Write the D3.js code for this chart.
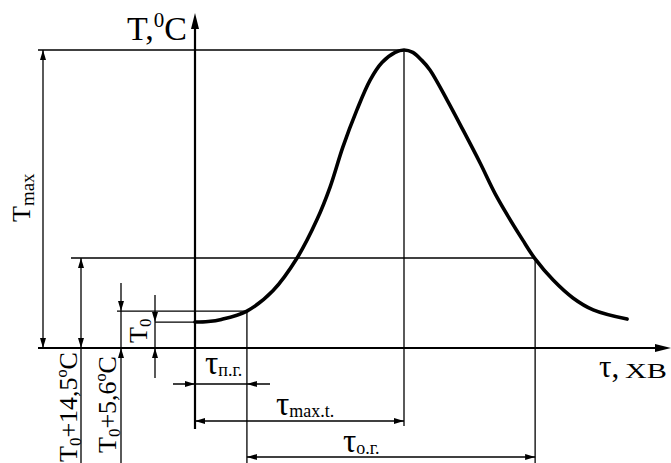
<!DOCTYPE html>
<html>
<head>
<meta charset="utf-8">
<script src="https://cdn.jsdelivr.net/npm/d3@7"></script>
<style>
  html, body { margin: 0; padding: 0; background: #fff; }
  svg { display: block; }
</style>
</head>
<body>
<svg id="chart" width="671" height="463"></svg>
<script>
// ---- Data (schematic units: time 0..100, temperature 0..100 where Tmax = 100) ----
const curveTime = [0, 3, 6, 11.8, 17.7, 23.2, 27.7, 30.7, 33.6, 36.8, 39.8, 42.5, 45.5, 47.5, 49.5, 51.5, 53.4, 57.3, 60.9, 64.8, 68.6, 74.5, 77.3, 81.4, 85.9, 90.5, 98.2];
const curveTemp = [8.7, 8.9, 9.6, 12.4, 19.2, 30.2, 43.0, 54.0, 67.4, 79.9, 89.9, 95.8, 99.2, 100, 99.2, 96.6, 93.3, 83.2, 73.2, 62.1, 50.7, 36.2, 29.9, 22.8, 16.8, 12.8, 9.7];

const levelNames = ["T0", "T0+5.6", "T0+14.5", "Tmax"];
const levelValues = [8.7, 12.4, 30.2, 100];

const timeNames = ["tauPG", "tauMax", "tauOG"];
const timeValues = [11.8, 47.5, 77.3];

// ---- Layout ----
const FONT = '"Liberation Serif", "Times New Roman", serif';
const svg = d3.select("#chart").attr("font-family", FONT);
const x = d3.scaleLinear().domain([0, 100]).range([195, 635]);
const y = d3.scaleLinear().domain([0, 100]).range([348, 50]);

const lev = {}; levelNames.forEach((n, i) => lev[n] = y(levelValues[i]));
const tm = {}; timeNames.forEach((n, i) => tm[n] = x(timeValues[i]));
const x0 = x(0), y0 = y(0);

const thin = 1.3;
function line(x1, y1, x2, y2, w) {
  svg.append("line").attr("x1", x1).attr("y1", y1).attr("x2", x2).attr("y2", y2)
    .attr("stroke", "#000").attr("stroke-width", w || thin);
}
function arrow(tx, ty, dir, len, hw) {
  len = len || 10; hw = hw || 3;
  let p;
  if (dir === "up") p = [[tx, ty], [tx - hw, ty + len], [tx + hw, ty + len]];
  if (dir === "down") p = [[tx, ty], [tx - hw, ty - len], [tx + hw, ty - len]];
  if (dir === "left") p = [[tx, ty], [tx + len, ty - hw], [tx + len, ty + hw]];
  if (dir === "right") p = [[tx, ty], [tx - len, ty - hw], [tx - len, ty + hw]];
  svg.append("path").attr("d", "M" + p.map(d => d.join(",")).join("L") + "Z").attr("fill", "#000");
}

// ---- Horizontal reference lines ----
line(38, lev["Tmax"], tm.tauMax, lev["Tmax"]);
line(71, lev["T0+14.5"], tm.tauOG, lev["T0+14.5"]);
line(117, lev["T0+5.6"], tm.tauPG, lev["T0+5.6"]);
line(155, lev["T0"], x0, lev["T0"]);

// ---- Vertical extension lines ----
line(tm.tauPG, lev["T0+5.6"], tm.tauPG, 463);
line(tm.tauMax, lev["Tmax"], tm.tauMax, 426);
line(tm.tauOG, lev["T0+14.5"], tm.tauOG, 463);

// ---- Axes ----
line(x0, 22, x0, 429, 2.2);
arrow(x0, 13, "up", 16, 4);
line(38, y0, 660, y0, 2.2);
arrow(671, y0, "right", 16, 4);

// ---- Temperature dimension lines ----
line(43, lev["Tmax"], 43, y0);
arrow(43, lev["Tmax"], "up");
arrow(43, y0, "down");
line(81, lev["T0+14.5"], 81, 463);
arrow(81, lev["T0+14.5"], "up");
arrow(81, y0, "down");
line(121, 283, 121, 463);
arrow(121, lev["T0+5.6"], "down");
arrow(121, y0, "up");
line(155, 295, 155, 378);
arrow(155, lev["T0"], "down");
arrow(155, y0, "up");

// ---- Time dimension lines ----
const yPG = 384, yMax = 421, yOG = 457;
line(173, yPG, 270, yPG);
arrow(x0, yPG, "right");
arrow(tm.tauPG, yPG, "left");
line(x0, yMax, tm.tauMax, yMax);
arrow(x0, yMax, "left");
arrow(tm.tauMax, yMax, "right");
line(tm.tauPG, yOG, tm.tauOG, yOG);
arrow(tm.tauPG, yOG, "left");
arrow(tm.tauOG, yOG, "right");

// ---- Curve ----
const pts = curveTime.map((t, i) => [t, curveTemp[i]]);
svg.append("path")
  .attr("d", d3.line().x(d => x(d[0])).y(d => y(d[1])).curve(d3.curveCatmullRom.alpha(0.5))(pts))
  .attr("fill", "none").attr("stroke", "#000").attr("stroke-width", 3.6).attr("stroke-linecap", "round");

// ---- Labels ----
const tt = svg.append("text").attr("x", 127).attr("y", 40).attr("font-size", 34);
tt.append("tspan").text("T,");
tt.append("tspan").attr("font-size", 21).attr("dy", -13).text("0");
tt.append("tspan").attr("dy", 13).text("C");

svg.append("text").attr("x", 599).attr("y", 377).attr("font-size", 31).text("τ,");
svg.append("text").attr("x", 625).attr("y", 378).attr("font-size", 20)
  .attr("textLength", 42).attr("lengthAdjust", "spacingAndGlyphs").text("ХВ");

function tauLabel(xp, yp, sub) {
  const t = svg.append("text").attr("x", xp).attr("y", yp).attr("font-size", 33);
  t.append("tspan").text("τ");
  t.append("tspan").attr("font-size", 18).attr("dy", 2).text(sub);
}
tauLabel(205, 374, "п.г.");
tauLabel(276, 415, "max.t.");
tauLabel(343, 452, "о.г.");

function rotLabel(bx, by, parts) {
  const t = svg.append("text").attr("transform", `translate(${bx},${by}) rotate(-90)`).attr("font-size", 26);
  parts.forEach(p => {
    const s = t.append("tspan").text(p.t);
    if (p.fs) s.attr("font-size", p.fs);
    if (p.dy) s.attr("dy", p.dy);
  });
}
rotLabel(30, 222, [{t: "T"}, {t: "max", fs: 19, dy: 4}]);
rotLabel(77, 462, [{t: "T"}, {t: "0", fs: 17, dy: 4}, {t: "+14,5ºC", dy: -4}]);
rotLabel(116, 453, [{t: "T"}, {t: "0", fs: 17, dy: 4}, {t: "+5,6ºC", dy: -4}]);
rotLabel(147, 343, [{t: "T"}, {t: "0", fs: 17, dy: 4}]);
</script>
</body>
</html>
